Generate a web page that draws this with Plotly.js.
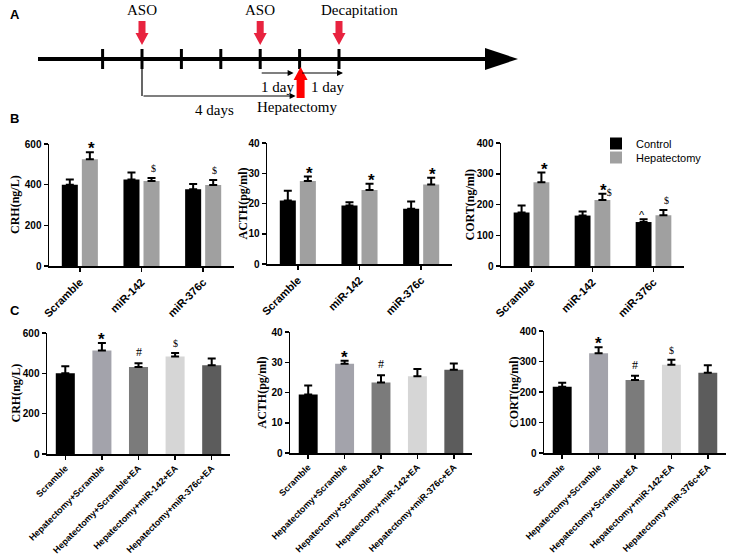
<!DOCTYPE html>
<html>
<head>
<meta charset="utf-8">
<script src="https://cdn.plot.ly/plotly-3.0.1.min.js"></script>
<style>
  body { margin: 0; background: #fff; }
  #grafic { width: 732px; height: 554px; }
</style>
</head>
<body>
<div id="grafic"></div>
<script>
// ---- DADES PANELL A (timeline, in days) ----
var timelineDays = [-1, 0, 1, 2, 3, 4, 5];
var asoDays = [0, 3];
var hepatectomyDay = 4;
var decapitationDay = 5;

// ---- DADES PANELL B ----
var bGroups = ['Scramble', 'miR-142', 'miR-376c'];
var bCrhCtrl = [400, 425, 378];
var bCrhCtrlErr = [25, 35, 25];
var bCrhHep = [525, 418, 398];
var bCrhHepErr = [35, 15, 25];
var bCrhCtrlMark = ['', '', ''];
var bCrhHepMark = ['*', '$', '$'];

var bActhCtrl = [21, 19.3, 18.3];
var bActhCtrlErr = [3.2, 1.1, 2.4];
var bActhHep = [27.4, 24.5, 26.3];
var bActhHepErr = [1.5, 2, 2.2];
var bActhCtrlMark = ['', '', ''];
var bActhHepMark = ['*', '*', '*'];

var bCortCtrl = [174, 164, 143];
var bCortCtrlErr = [23, 13, 9];
var bCortHep = [272, 215, 165];
var bCortHepErr = [32, 20, 17];
var bCortCtrlMark = ['', '', '^'];
var bCortHepMark = ['*', '*$', '$'];

// ---- DADES PANELL C ----
var cGroups = ['Scramble', 'Hepatectomy+Scramble', 'Hepatectomy+Scramble+EA', 'Hepatectomy+miR-142+EA', 'Hepatectomy+miR-376c+EA'];
var cCrh = [400, 513, 432, 484, 440];
var cCrhErr = [35, 38, 18, 17, 33];
var cCrhMark = ['', '*', '#', '$', ''];
var cActh = [19.3, 29.5, 23.3, 25.4, 27.5];
var cActhErr = [3, 1, 2.4, 2.4, 2.1];
var cActhMark = ['', '*', '#', '', ''];
var cCort = [217, 327, 239, 289, 263];
var cCortErr = [13, 20, 14, 17, 25];
var cCortMark = ['', '*', '#', '$', ''];
var cColors = ['#000000', '#a3a3ab', '#7b7b7b', '#d6d6d6', '#5c5c5c'];

var W = 732, H = 554;
var SANS = 'Liberation Sans, Arial, sans-serif';
var SERIF = 'Liberation Serif, Times New Roman, serif';

function domX(a, b) { return [a / W, b / W]; }
function domY(top, bottom) { return [1 - bottom / H, 1 - top / H]; }
function zeros(n) { var z = []; for (var k = 0; k < n; k++) z.push(0); return z; }

// eixos d'un grafic de barres
function eixX(dom, anchor, n, fontSize) {
    return {
        domain: dom, anchor: anchor, type: 'category', range: [-0.5, n - 0.5],
        showline: true, linecolor: '#000', linewidth: 1.5,
        ticks: 'outside', ticklen: 4, tickcolor: '#000', tickwidth: 1.5,
        tickangle: -45, showgrid: false, zeroline: false,
        tickfont: { family: SANS, size: fontSize, color: '#000', weight: 'bold' }
    };
}
function eixY(dom, anchor, max, dtick) {
    return {
        domain: dom, anchor: anchor, range: [0, max], dtick: dtick,
        showline: true, linecolor: '#000', linewidth: 1.5,
        ticks: 'outside', ticklen: 4, tickcolor: '#000', tickwidth: 1.5,
        showgrid: false, zeroline: false,
        tickfont: { family: SANS, size: 10, color: '#000', weight: 'bold' }
    };
}

function barra(xa, ya, cats, vals, errs, color, name, showleg, leg) {
    return {
        type: 'bar', x: cats, y: vals, xaxis: xa, yaxis: ya, name: name,
        showlegend: showleg, legend: leg || 'legend',
        marker: { color: color, line: { width: 0 } },
        error_y: { type: 'data', symmetric: false, array: errs, arrayminus: zeros(vals.length),
                   color: '#000', thickness: 2, width: 4 }
    };
}

// estil de cada simbol de significacio
var estilMarca = {
    '*': { size: 17, yshift: -8, family: SANS, weight: 'bold' },
    '*$': { size: 17, yshift: -8, family: SANS, weight: 'bold',
            html: '*<span style="font-size:10px;font-weight:normal;font-family:Liberation Serif">$</span>' },
    '$': { size: 10, yshift: 2, family: SERIF, weight: 'normal' },
    '#': { size: 12, yshift: 2, family: SERIF, weight: 'normal' },
    '^': { size: 11, yshift: -4, family: SANS, weight: 'normal' }
};

var anotacions = [];
function posaMarques(xa, ya, cats, vals, errs, marks, shift) {
    for (var k = 0; k < cats.length; k++) {
        if (!marks[k]) continue;
        var e = estilMarca[marks[k]];
        anotacions.push({
            xref: xa, yref: ya, x: cats[k], y: vals[k] + errs[k], text: e.html || marks[k],
            showarrow: false, yanchor: 'bottom', xshift: shift, yshift: e.yshift,
            font: { family: e.family, size: e.size, color: '#000', weight: e.weight }
        });
    }
}

function titolY(text, px, top, bottom) {
    anotacions.push({
        xref: 'paper', yref: 'paper', x: px / W, y: 1 - (top + bottom) / 2 / H,
        text: text, textangle: -90, showarrow: false, xanchor: 'center', yanchor: 'middle',
        font: { family: SERIF, size: 12, color: '#000', weight: 'bold' }
    });
}

var dades = [];
// PANELL B
dades.push(barra('x', 'y', bGroups, bCrhCtrl, bCrhCtrlErr, '#000000', 'Control', true, 'legend'));
dades.push(barra('x', 'y', bGroups, bCrhHep, bCrhHepErr, '#a0a0a0', 'Hepatectomy', true, 'legend2'));
dades.push(barra('x2', 'y2', bGroups, bActhCtrl, bActhCtrlErr, '#000000', 'Control', false));
dades.push(barra('x2', 'y2', bGroups, bActhHep, bActhHepErr, '#a0a0a0', 'Hepatectomy', false));
dades.push(barra('x3', 'y3', bGroups, bCortCtrl, bCortCtrlErr, '#000000', 'Control', false));
dades.push(barra('x3', 'y3', bGroups, bCortHep, bCortHepErr, '#a0a0a0', 'Hepatectomy', false));
// PANELL C
dades.push(barra('x4', 'y4', cGroups, cCrh, cCrhErr, cColors, 'CRH', false));
dades.push(barra('x5', 'y5', cGroups, cActh, cActhErr, cColors, 'ACTH', false));
dades.push(barra('x6', 'y6', cGroups, cCort, cCortErr, cColors, 'CORT', false));

posaMarques('x', 'y', bGroups, bCrhCtrl, bCrhCtrlErr, bCrhCtrlMark, -11.5);
posaMarques('x', 'y', bGroups, bCrhHep, bCrhHepErr, bCrhHepMark, 11.5);
posaMarques('x2', 'y2', bGroups, bActhCtrl, bActhCtrlErr, bActhCtrlMark, -11.5);
posaMarques('x2', 'y2', bGroups, bActhHep, bActhHepErr, bActhHepMark, 11.5);
posaMarques('x3', 'y3', bGroups, bCortCtrl, bCortCtrlErr, bCortCtrlMark, -11.5);
posaMarques('x3', 'y3', bGroups, bCortHep, bCortHepErr, bCortHepMark, 13);
posaMarques('x4', 'y4', cGroups, cCrh, cCrhErr, cCrhMark, 0);
posaMarques('x5', 'y5', cGroups, cActh, cActhErr, cActhMark, 0);
posaMarques('x6', 'y6', cGroups, cCort, cCortErr, cCortMark, 0);

titolY('CRH(ng/L)', 15, 144, 266);
titolY('ACTH(pg/ml)', 242, 143, 264);
titolY('CORT(ng/ml)', 469, 143, 266);
titolY('CRH(ng/L)', 15, 333, 454);
titolY('ACTH(pg/ml)', 261, 332, 453);
titolY('CORT(ng/ml)', 514, 331, 453);

// lletres dels panells
[['A', 14], ['B', 118], ['C', 310]].forEach(function (p) {
    anotacions.push({ xref: 'paper', yref: 'paper', x: 8 / W, y: 1 - p[1] / H, text: p[0],
        showarrow: false, xanchor: 'left', yanchor: 'middle',
        font: { family: SANS, size: 13, color: '#000', weight: 'bold' } });
});

// ---- PANELL A: diagrama (eix x7/y7 en pixels) ----
function diaX(d) { return 142 + 39.4 * d; }
var formes = [];
var LINIA_Y = 59;
formes.push({ type: 'line', xref: 'x7', yref: 'y7', x0: 38, x1: 490, y0: LINIA_Y, y1: LINIA_Y,
              line: { color: '#000', width: 4 } });
formes.push({ type: 'path', xref: 'x7', yref: 'y7', path: 'M485,48 L518,59 L485,70 Z',
              fillcolor: '#000', line: { width: 0 } });
timelineDays.forEach(function (d) {
    formes.push({ type: 'line', xref: 'x7', yref: 'y7', x0: diaX(d), x1: diaX(d), y0: 49, y1: 69,
                  line: { color: '#000', width: 3 } });
});
function fletxaAvall(x) {
    return { type: 'path', xref: 'x7', yref: 'y7', fillcolor: '#e8233f', line: { width: 0 },
        path: 'M' + (x - 3.5) + ',21 L' + (x + 3.5) + ',21 L' + (x + 3.5) + ',33 L' + (x + 6.5) + ',33 L' + x + ',45 L' +
              (x - 6.5) + ',33 L' + (x - 3.5) + ',33 Z' };
}
asoDays.forEach(function (d) {
    formes.push(fletxaAvall(diaX(d)));
    anotacions.push({ xref: 'x7', yref: 'y7', x: diaX(d), y: 10, text: 'ASO', showarrow: false,
        font: { family: SERIF, size: 15, color: '#000' } });
});
formes.push(fletxaAvall(diaX(decapitationDay)));
anotacions.push({ xref: 'x7', yref: 'y7', x: diaX(decapitationDay) + 20, y: 10, text: 'Decapitation', showarrow: false,
    font: { family: SERIF, size: 15, color: '#000' } });

// fletxa vermella cap amunt (hepatectomia)
var hx = diaX(hepatectomyDay) + 1;
formes.push({ type: 'path', xref: 'x7', yref: 'y7', fillcolor: '#ff0000', line: { width: 0 },
    path: 'M' + (hx - 4) + ',98 L' + (hx + 4) + ',98 L' + (hx + 4) + ',80 L' + (hx + 7) + ',80 L' + hx + ',67 L' +
          (hx - 7) + ',80 L' + (hx - 4) + ',80 Z' });

// fletxes negres petites "1 day"
function fletxaNegra(x0, x1, y) {
    anotacions.push({ xref: 'x7', yref: 'y7', axref: 'x7', ayref: 'y7', x: x1, y: y, ax: x0, ay: y,
        text: '', showarrow: true, arrowhead: 2, arrowsize: 1, arrowwidth: 1.2, arrowcolor: '#000' });
}
fletxaNegra(diaX(asoDays[1]), diaX(hepatectomyDay) - 6, 73);
fletxaNegra(diaX(hepatectomyDay) + 1, diaX(decapitationDay) + 4, 73);
anotacions.push({ xref: 'x7', yref: 'y7', x: diaX(asoDays[1]) + 17, y: 87, text: '1 day', showarrow: false,
    font: { family: SERIF, size: 15, color: '#000' } });
anotacions.push({ xref: 'x7', yref: 'y7', x: diaX(hepatectomyDay) + 28, y: 87, text: '1 day', showarrow: false,
    font: { family: SERIF, size: 15, color: '#000' } });

// claudator "4 days"
formes.push({ type: 'line', xref: 'x7', yref: 'y7', x0: diaX(asoDays[0]), x1: diaX(asoDays[0]), y0: 69, y1: 96,
              line: { color: '#000', width: 1.2 } });
fletxaNegra(diaX(asoDays[0]), diaX(hepatectomyDay) - 4, 96);
anotacions.push({ xref: 'x7', yref: 'y7', x: 214, y: 110, text: '4 days', showarrow: false,
    font: { family: SERIF, size: 15, color: '#000' } });
anotacions.push({ xref: 'x7', yref: 'y7', x: diaX(hepatectomyDay) - 3, y: 107, text: 'Hepatectomy', showarrow: false,
    font: { family: SERIF, size: 15, color: '#000' } });

var estilLlegenda = { xanchor: 'left', yanchor: 'top', bgcolor: 'rgba(0,0,0,0)',
                      font: { family: SANS, size: 11, color: '#000' } };

var layout = {
    width: W, height: H,
    margin: { l: 0, r: 0, t: 0, b: 0 },
    paper_bgcolor: '#fff', plot_bgcolor: 'rgba(0,0,0,0)',
    barmode: 'group', bargap: 0.35, bargroupgap: 0.2,
    showlegend: true,
    legend: Object.assign({ x: 596 / W, y: 1 - 129 / H }, estilLlegenda),
    legend2: Object.assign({ x: 596 / W, y: 1 - 143 / H }, estilLlegenda),
    xaxis: eixX(domX(49, 234), 'y', 3, 11),
    yaxis: eixY(domY(144, 266), 'x', 600, 200),
    xaxis2: eixX(domX(267, 452), 'y2', 3, 11),
    yaxis2: eixY(domY(143, 264), 'x2', 40, 10),
    xaxis3: eixX(domX(501, 684), 'y3', 3, 11),
    yaxis3: eixY(domY(143, 266), 'x3', 400, 100),
    xaxis4: eixX(domX(47, 230), 'y4', 5, 9),
    yaxis4: eixY(domY(333, 454), 'x4', 600, 200),
    xaxis5: eixX(domX(290, 472), 'y5', 5, 9),
    yaxis5: eixY(domY(332, 453), 'x5', 40, 10),
    xaxis6: eixX(domX(544, 726), 'y6', 5, 9),
    yaxis6: eixY(domY(331, 453), 'x6', 400, 100),
    xaxis7: { domain: [0, 1], anchor: 'y7', range: [0, W], visible: false, fixedrange: true },
    yaxis7: { domain: [0, 1], anchor: 'x7', range: [H, 0], visible: false, fixedrange: true },
    shapes: formes,
    annotations: anotacions
};

// traca buida perque existeixi l'eix del diagrama
dades.push({ type: 'scatter', x: [], y: [], xaxis: 'x7', yaxis: 'y7', showlegend: false, hoverinfo: 'skip' });

Plotly.newPlot('grafic', dades, layout, { displayModeBar: false, staticPlot: true });
</script>
</body>
</html>
